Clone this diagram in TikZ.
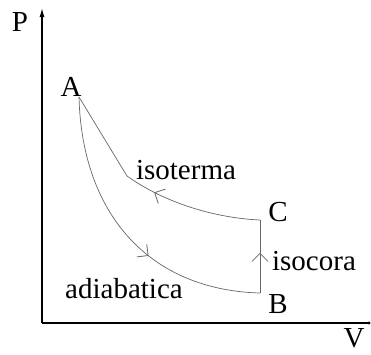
\documentclass[tikz,border=0pt]{standalone}
\usepackage{fontspec}
\setmainfont{Liberation Serif}
\usetikzlibrary{arrows.meta, decorations.markings}

\begin{document}
\begin{tikzpicture}[>=Latex, x=1pt, y=-1pt, semithick]
\tikzstyle{lbl}=[inner sep=0pt, font=\fontsize{29}{32}\selectfont]
\tikzstyle{axis}=[draw=black, line width=1.2pt]
\tikzstyle{trans}=[draw=black!60, line width=0.7pt]
\tikzset{midarrow/.style={postaction=decorate, decoration={markings,
    mark=at position #1 with {\arrow{Straight Barb[length=8pt, width=16pt, line width=0.8pt]}}}}}
  \useasboundingbox (0,0) rectangle (371,354);
  % axes
  \coordinate (O) at (42,323);
  \coordinate (Ptop) at (42,8);
  \coordinate (Vend) at (369,323);
  \draw[axis, -{Latex[length=9pt, width=5pt]}] (O) -- (Ptop);
  \draw[axis] (O) -- (Vend);
  \fill (Vend) circle (1.6pt);
  \node[lbl] (P) at (20,22) {P};
  \node[lbl] (V) at (354,338) {V};
  % states
  \coordinate (A) at (79,97);
  \coordinate (B) at (260,293);
  \coordinate (C) at (260,220);
  \coordinate (K) at (127,176);
  \node[lbl] (Alab) at (71,87) {A};
  \node[lbl] (Blab) at (278,304) {B};
  \node[lbl] (Clab) at (278,212) {C};
  % transformations
  \draw[trans, midarrow=0.6] (A) .. controls (82,215) and (150,290) .. (B);
  \draw[trans, midarrow=0.55] (B) -- (C);
  \draw[trans, midarrow=0.47] (C) .. controls (215,218) and (165,203) .. (K) -- (A);
  \node[lbl] (iso) at (186,170) {isoterma};
  \node[lbl] (isc) at (314,261) {isocora};
  \node[lbl] (adi) at (124,289) {adiabatica};
\end{tikzpicture}
\end{document}
